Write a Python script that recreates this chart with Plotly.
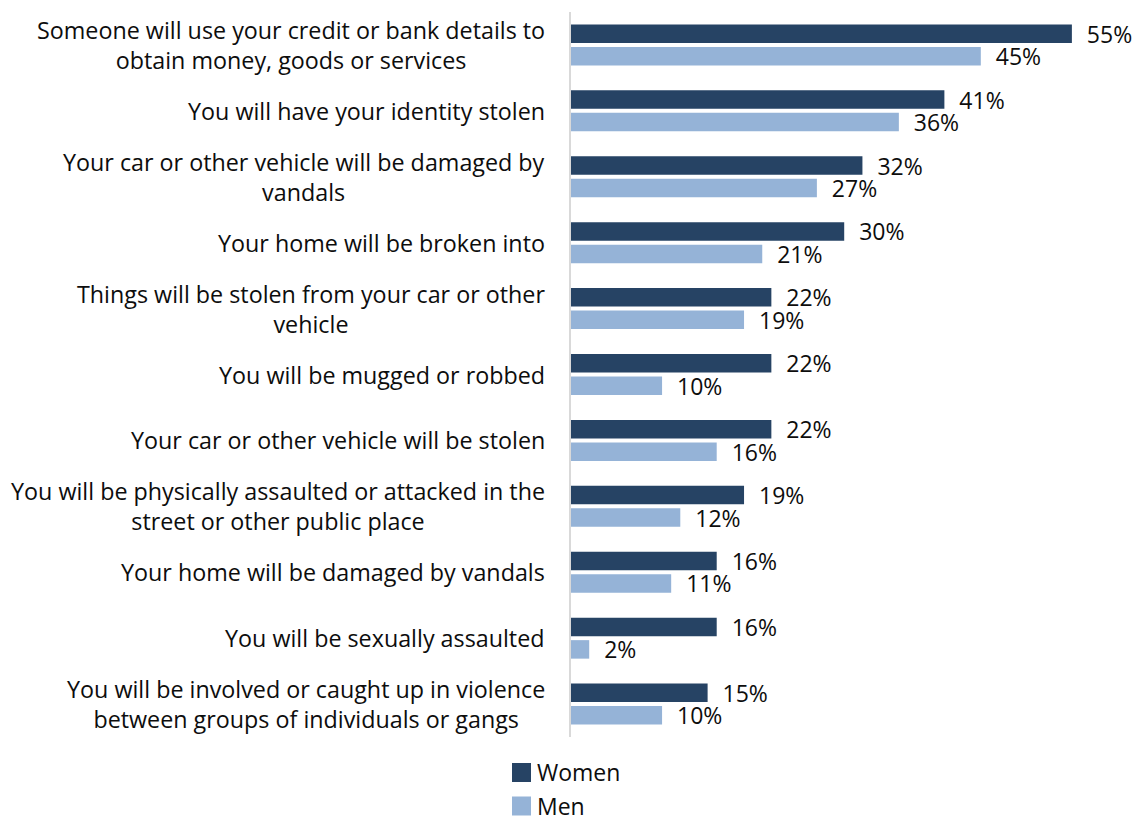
import plotly.graph_objects as go

# Survey statements (top to bottom) and share worried, by sex (%)
categories = [
    "Someone will use your credit or bank details to<br>obtain money, goods or services",
    "You will have your identity stolen",
    "Your car or other vehicle will be damaged by<br>vandals",
    "Your home will be broken into",
    "Things will be stolen from your car or other<br>vehicle",
    "You will be mugged or robbed",
    "Your car or other vehicle will be stolen",
    "You will be physically assaulted or attacked in the<br>street or other public place",
    "Your home will be damaged by vandals",
    "You will be sexually assaulted",
    "You will be involved or caught up in violence<br>between groups of individuals or gangs",
]
women = [55, 41, 32, 30, 22, 22, 22, 19, 16, 16, 15]
men = [45, 36, 27, 21, 19, 10, 16, 12, 11, 2, 10]
series_names = ["Women", "Men"]
series_colors = ["#264364", "#95B3D7"]

FONT = "Open Sans"
TEXT_COLOR = "#0d0d0d"
W, H = 1132, 820
L, R, T, B = 571, 0, 12, 83

positions = list(range(len(categories)))

fig = go.Figure()
for name, vals, col in zip(series_names, [women, men], series_colors):
    fig.add_trace(go.Bar(
        y=positions,
        x=vals,
        name=name,
        orientation="h",
        marker=dict(color=col, line=dict(width=0)),
        text=vals,
        texttemplate="\u00a0\u00a0%{x}%",
        textposition="outside",
        textfont=dict(family=FONT, size=23, color=TEXT_COLOR),
        cliponaxis=False,
        constraintext="none",
        showlegend=False,
    ))

# Category labels: centred lines, block aligned to the axis
for pos, label in zip(positions, categories):
    fig.add_annotation(
        x=0, xref="paper", y=pos, yref="y",
        text=label, showarrow=False,
        xanchor="right", yanchor="middle", align="center",
        xshift=-24,
        font=dict(family=FONT, size=23.3, color=TEXT_COLOR),
    )

# Legend drawn below the plot
plot_w = W - L - R
plot_h = H - T - B


def px_to_paper_x(px):
    return (px - L) / plot_w


def px_to_paper_y(py):
    return (H - B - py) / plot_h


legend_rows = [772.5, 806]
for name, col, cy in zip(series_names, series_colors, legend_rows):
    fig.add_shape(
        type="rect", xref="paper", yref="paper",
        x0=px_to_paper_x(512), x1=px_to_paper_x(531),
        y0=px_to_paper_y(cy - 9.5), y1=px_to_paper_y(cy + 9.5),
        fillcolor=col, line=dict(width=0),
    )
    fig.add_annotation(
        x=px_to_paper_x(535), xref="paper", y=px_to_paper_y(cy), yref="paper",
        text=name, showarrow=False, xanchor="left", yanchor="middle",
        font=dict(family=FONT, size=23, color=TEXT_COLOR),
    )

fig.update_layout(
    width=W, height=H,
    margin=dict(l=L, r=R, t=T, b=B, pad=0),
    paper_bgcolor="white", plot_bgcolor="white",
    barmode="group", bargap=0.317, bargroupgap=0.178,
    font=dict(family=FONT, color=TEXT_COLOR),
    xaxis=dict(range=[0, 61.6], visible=False, fixedrange=True),
    yaxis=dict(
        range=[len(categories) - 0.5, -0.5],
        showticklabels=False, ticks="", showgrid=False, zeroline=False,
        showline=True, linecolor="#D9D9D9", linewidth=2, fixedrange=True,
    ),
)

fig.write_html("out.html")
